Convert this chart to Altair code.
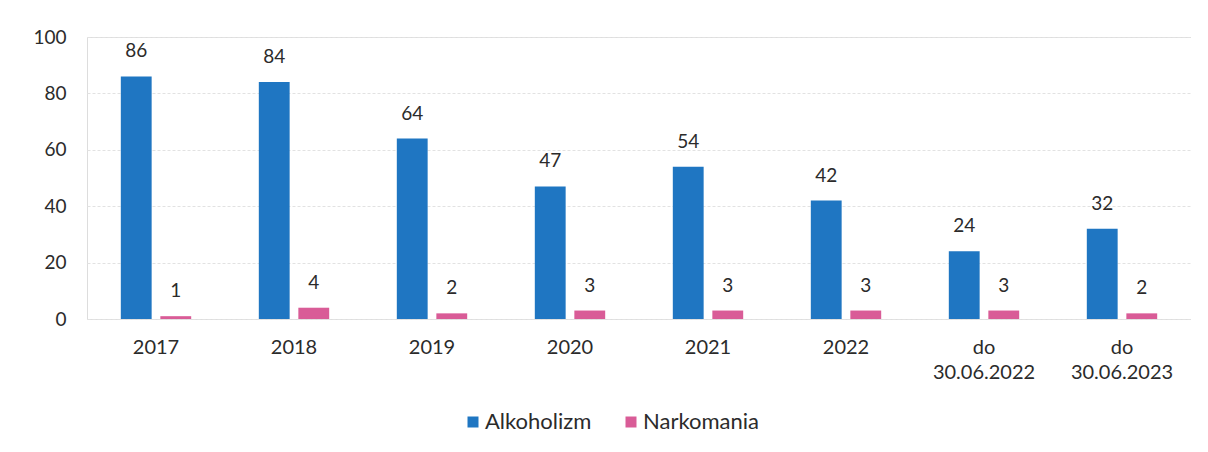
import altair as alt
import pandas as pd

categories = ["2017", "2018", "2019", "2020", "2021", "2022", "do|30.06.2022", "do|30.06.2023"]
alkoholizm = [86, 84, 64, 47, 54, 42, 24, 32]
narkomania = [1, 4, 2, 3, 3, 3, 3, 2]
series = ["Alkoholizm", "Narkomania"]
colors = ["#1f76c2", "#d95c97"]

rows = []
for c, a, n in zip(categories, alkoholizm, narkomania):
    rows.append({"cat": c, "series": series[0], "value": a})
    rows.append({"cat": c, "series": series[1], "value": n})
df = pd.DataFrame(rows)

FONT = "Lato"

x = alt.X("cat:N", sort=categories, title=None,
          scale=alt.Scale(paddingInner=0.49, paddingOuter=0.245),
          axis=alt.Axis(labelAngle=0, labelExpr="split(datum.label, '|')",
                        labelFontSize=20, labelFont=FONT, labelColor="#2b2b2b",
                        labelPadding=18, labelLineHeight=25,
                        ticks=False, domain=False, grid=False))
xo = alt.XOffset("series:N", sort=series,
                 scale=alt.Scale(paddingInner=0.22, paddingOuter=0))
y = alt.Y("value:Q", title=None,
          scale=alt.Scale(domain=[0, 100], nice=False),
          axis=alt.Axis(values=[0, 20, 40, 60, 80, 100], labelFontSize=19,
                        labelFont=FONT, labelColor="#2b2b2b", labelPadding=21,
                        ticks=False, domain=False, grid=True,
                        gridColor="#e2e2e2", gridDash=[3, 2], gridWidth=1))
color = alt.Color("series:N", sort=series,
                  scale=alt.Scale(domain=series, range=colors),
                  legend=alt.Legend(title=None, orient="none", direction="horizontal",
                                    legendX=375, legendY=374,
                                    symbolType="square", symbolSize=121,
                                    symbolStrokeWidth=0, labelFontSize=22,
                                    labelFont=FONT, labelColor="#2b2b2b",
                                    labelOffset=1, columnPadding=28))

base = alt.Chart(df).encode(x=x, xOffset=xo, y=y)
bars = base.mark_bar().encode(color=color)
labels = base.mark_text(dy=-25, baseline="middle", fontSize=19, font=FONT,
                        color="#2b2b2b").encode(text="value:Q")

chart = (bars + labels).properties(
    width=1104, height=282,
    padding={"left": 24, "top": 20, "right": 0, "bottom": 5},
).configure_view(stroke=None).configure(background="white")

chart.save("out.html", embed_options={"renderer": "svg", "actions": False})
